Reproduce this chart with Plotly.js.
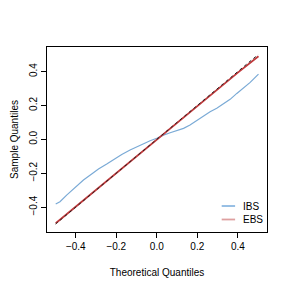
<!DOCTYPE html>
<html><head><meta charset="utf-8">
<script src="https://cdn.plot.ly/plotly-3.0.1.min.js"></script>
<style>html,body{margin:0;padding:0;background:#fff}</style>
</head><body><div id="chart" style="width:291px;height:291px"></div>
<script>
const ibsX = [-0.499,-0.478,-0.445,-0.399,-0.362,-0.313,-0.288,-0.247,-0.198,-0.173,-0.132,-0.099,-0.066,-0.033,0.000,0.033,0.066,0.099,0.132,0.164,0.197,0.230,0.263,0.296,0.329,0.362,0.395,0.428,0.461,0.502];
const ibsY = [-0.382,-0.368,-0.329,-0.279,-0.240,-0.197,-0.175,-0.146,-0.106,-0.089,-0.063,-0.043,-0.024,-0.008,0.006,0.025,0.039,0.051,0.065,0.084,0.110,0.134,0.163,0.183,0.208,0.236,0.271,0.301,0.336,0.385];
const ebsX = [-0.499,-0.4,-0.3,-0.2,-0.1,0,0.1,0.2,0.3,0.4,0.502];
const ebsY = [-0.495,-0.397,-0.298,-0.199,-0.100,0.000,0.099,0.198,0.296,0.394,0.490];
const refX = [-0.5,0.5];
const refY = [-0.5,0.5];
const xTicks = [-0.4,-0.2,0.0,0.2,0.4];
const xTickText = ["\u22120.4","\u22120.2","0.0","0.2","0.4"];
const yTicks = [-0.4,-0.2,0.0,0.2,0.4];
const yTickText = ["\u22120.4","\u22120.2","0.0","0.2","0.4"];
const legendNames = ["IBS","EBS"];
const legendColors = ["#8db9e2","#dea0a0"];

const font = {family:"Liberation Sans, Arial, sans-serif", size:10, color:"#000"};
const data = [
  {x:ibsX, y:ibsY, type:"scatter", mode:"lines", name:"IBS", line:{color:"#7aaad6", width:1.2}},
  {x:ebsX, y:ebsY, type:"scatter", mode:"lines", name:"EBS", line:{color:"#c0393b", width:1.8}},
  {x:refX, y:refY, type:"scatter", mode:"lines", name:"ref", line:{color:"#222", width:1, dash:"dot"}}
];
const legY = [0.1405, 0.0676];
const shapes = legendNames.map((n,i)=>({type:"line", xref:"paper", yref:"paper", x0:0.794, x1:0.855, y0:legY[i], y1:legY[i], line:{color:legendColors[i], width:1.8}}));
const annotations = legendNames.map((n,i)=>({text:n, xref:"paper", yref:"paper", x:0.884, y:legY[i], xanchor:"left", yanchor:"middle", showarrow:false, font:font}));
const axisCommon = {showline:true, mirror:true, linecolor:"#000", linewidth:1, ticks:"outside", ticklen:5, tickcolor:"#000", showgrid:false, zeroline:false, tickfont:font};
const layout = {
  width:291, height:291,
  margin:{l:47, r:24, t:47, b:59},
  paper_bgcolor:"#fff", plot_bgcolor:"#fff",
  font:font,
  showlegend:false,
  shapes:shapes, annotations:annotations,
  xaxis:Object.assign({}, axisCommon, {range:[-0.542,0.544], tickvals:xTicks, ticktext:xTickText, title:{text:"Theoretical Quantiles", font:font, standoff:17}}),
  yaxis:Object.assign({}, axisCommon, {range:[-0.547,0.545], tickvals:yTicks, ticktext:yTickText, tickangle:-90, title:{text:"Sample Quantiles", font:font, standoff:7}})
};
Plotly.newPlot("chart", data, layout, {displayModeBar:false, staticPlot:true});
</script></body></html>
